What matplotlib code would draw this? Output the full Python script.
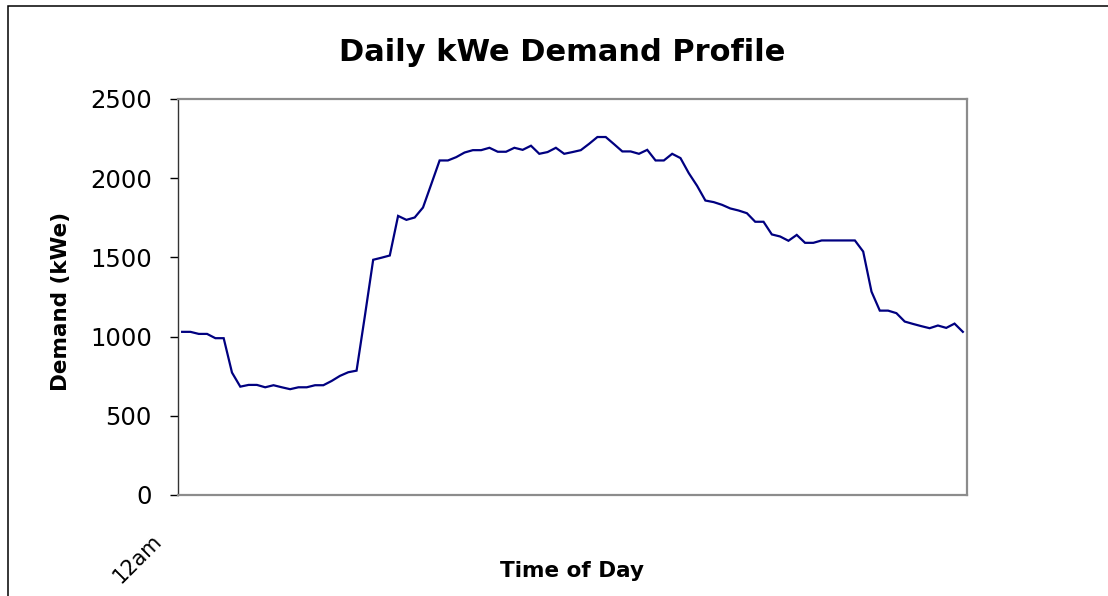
import numpy as np
import matplotlib
matplotlib.use("Agg")
import matplotlib.pyplot as plt
import matplotlib.patches as mpatches
from matplotlib.transforms import ScaledTranslation, blended_transform_factory

# Demand, one value per interval starting at midnight
demand = [
    1030, 1030, 1017, 1017, 990, 990, 773, 684, 695, 695,
    680, 693, 680, 668, 680, 680, 693, 693, 720, 752,
    775, 785, 1130, 1485, 1498, 1512, 1762, 1737, 1752, 1815,
    1963, 2112, 2112, 2133, 2162, 2177, 2177, 2192, 2167, 2167,
    2192, 2179, 2205, 2154, 2165, 2192, 2154, 2165, 2177, 2217,
    2260, 2260, 2215, 2169, 2169, 2154, 2179, 2112, 2112, 2154,
    2127, 2032, 1952, 1859, 1849, 1832, 1809, 1796, 1779, 1725,
    1725, 1645, 1632, 1605, 1642, 1592, 1592, 1607, 1607, 1607,
    1607, 1607, 1537, 1284, 1164, 1164, 1148, 1095, 1080, 1066,
    1053, 1070, 1055, 1082, 1030,
]
y_ticks = [0, 500, 1000, 1500, 2000, 2500]
x_tick_labels = ["12am"]

W, H = 1108, 596
fig = plt.figure(figsize=(W / 100, H / 100), dpi=100)
ax = fig.add_axes([178 / W, 1 - 495 / H, (967 - 178) / W, (495 - 99) / H])

x = np.arange(len(demand))
ax.plot(x, demand, color="#000080", lw=1.6, solid_joinstyle="miter")

ax.set_xlim(-0.5, len(demand) - 0.5)
ax.set_ylim(0, 2500)
ax.set_yticks(y_ticks)
ax.set_yticklabels([str(v) for v in y_ticks], fontsize=17.5)
ax.tick_params(axis="y", length=5.8, width=1, color="black", pad=13)
ax.set_xticks([])

for side in ["top", "right", "bottom"]:
    ax.spines[side].set_color("#8c8c8c")
    ax.spines[side].set_linewidth(1.6)
ax.spines["left"].set_color("#333333")
ax.spines["left"].set_linewidth(1.0)

# only the first category gets a label, rotated like the original
trans = blended_transform_factory(ax.transData, ax.transAxes)
ax.text(x[0], 0, x_tick_labels[0], rotation=45, ha="right", va="top",
        fontsize=15,
        transform=trans + ScaledTranslation(-0.17, -0.36, fig.dpi_scale_trans))

fig.text(562 / W, 1 - 60.7 / H, "Daily kWe Demand Profile", ha="center",
         va="baseline", fontsize=22, fontweight="bold")
fig.text(572 / W, 1 - 577.3 / H, "Time of Day", ha="center", va="baseline",
         fontsize=15.5, fontweight="bold")
fig.text(61 / W, 1 - 301 / H, "Demand (kWe)", ha="center", va="center",
         rotation=90, fontsize=15.5, fontweight="bold")

# chart frame, runs off the right and bottom edges of the picture
frame = mpatches.Rectangle((8 / W, -0.5), 2, 1.5 - 6 / H, transform=fig.transFigure,
                           fill=False, edgecolor="black", lw=1.1)
fig.patches.append(frame)

fig.savefig("out.png", dpi=100)
